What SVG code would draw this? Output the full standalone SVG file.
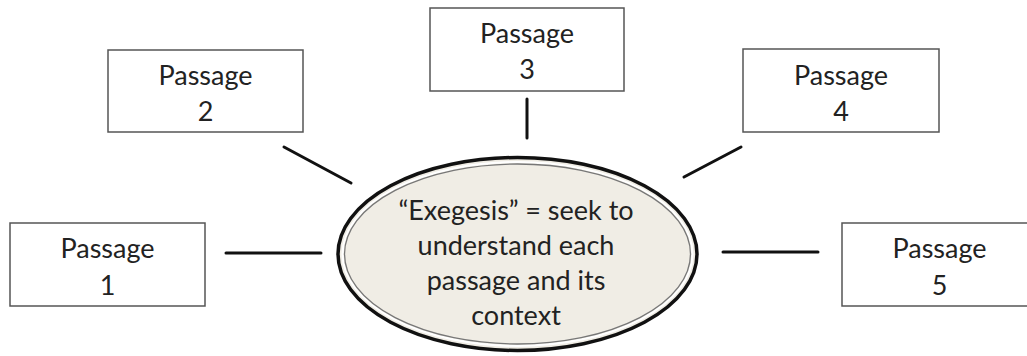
<svg xmlns="http://www.w3.org/2000/svg" width="1027" height="356" viewBox="0 0 1027 356">
<style>
.box{fill:#fff;stroke:#555;stroke-width:1.5}
.t{font-family:Lato,"Open Sans",sans-serif;font-size:27px;fill:#222;text-anchor:middle}
.c{stroke:#111;stroke-width:3;stroke-linecap:round}
</style>
<rect width="1027" height="356" fill="#fff"/>
<g id="connectors">
<line class="c" x1="226" y1="253" x2="321" y2="253"/>
<line class="c" x1="284" y1="147" x2="351" y2="183"/>
<line class="c" x1="527" y1="99" x2="527" y2="138"/>
<line class="c" x1="741" y1="147" x2="684" y2="177"/>
<line class="c" x1="723" y1="252" x2="818" y2="252"/>
</g>
<g id="center">
<ellipse cx="517.5" cy="254" rx="179.5" ry="96.5" fill="#f0ede5" stroke="#111" stroke-width="3.5"/>
<ellipse cx="517.5" cy="254" rx="175" ry="92" fill="none" stroke="#fff" stroke-width="2"/>
<ellipse cx="517.5" cy="254" rx="173" ry="90" fill="none" stroke="#777" stroke-width="1.3"/>
<text class="t" x="516" y="220">“Exegesis” = seek to</text>
<text class="t" x="516" y="255">understand each</text>
<text class="t" x="516" y="290">passage and its</text>
<text class="t" x="516" y="325">context</text>
</g>
<g id="p1"><rect class="box" x="10" y="223" width="195" height="83"/><text class="t" x="107.5" y="258">Passage</text><text class="t" x="107.5" y="295">1</text></g>
<g id="p2"><rect class="box" x="108" y="50" width="195" height="82"/><text class="t" x="205.5" y="85">Passage</text><text class="t" x="205.5" y="121">2</text></g>
<g id="p3"><rect class="box" x="430" y="8" width="194" height="83"/><text class="t" x="527" y="43">Passage</text><text class="t" x="527" y="79">3</text></g>
<g id="p4"><rect class="box" x="743" y="49" width="196" height="83"/><text class="t" x="841" y="85">Passage</text><text class="t" x="841" y="121">4</text></g>
<g id="p5"><rect class="box" x="842" y="223" width="195" height="83"/><text class="t" x="939.5" y="258">Passage</text><text class="t" x="939.5" y="295">5</text></g>
</svg>
